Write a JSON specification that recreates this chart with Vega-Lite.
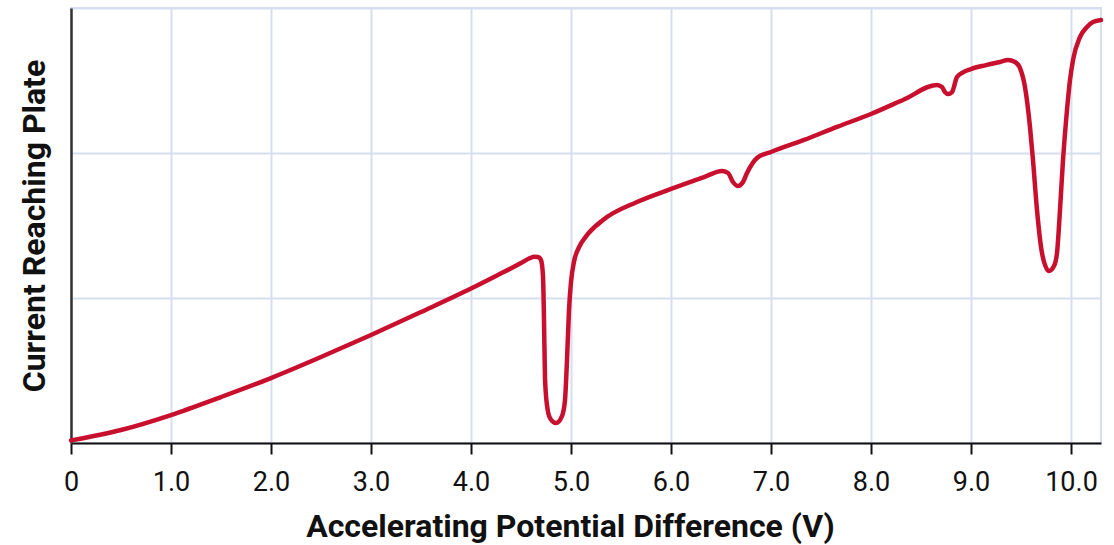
{
  "$schema": "https://vega.github.io/schema/vega-lite/v6.json",
  "width": 1030,
  "height": 435,
  "autosize": {"type": "none"},
  "padding": {"left": 71, "top": 8, "right": 13, "bottom": 102},
  "background": "white",
  "config": {
    "view": {"stroke": "#d5dff0", "strokeWidth": 2},
    "font": "Roboto"
  },
  "data": {
    "values": [
      {"v": 0, "c": 0.018}, {"v": 0.5, "c": 0.09}, {"v": 1.0, "c": 0.193},
      {"v": 1.5, "c": 0.317}, {"v": 2.0, "c": 0.448}, {"v": 2.5, "c": 0.593},
      {"v": 3.0, "c": 0.745}, {"v": 3.5, "c": 0.903}, {"v": 4.0, "c": 1.065},
      {"v": 4.25, "c": 1.152}, {"v": 4.5, "c": 1.241}, {"v": 4.58, "c": 1.272},
      {"v": 4.63, "c": 1.285}, {"v": 4.67, "c": 1.283}, {"v": 4.7, "c": 1.262},
      {"v": 4.72, "c": 1.15}, {"v": 4.73, "c": 0.85}, {"v": 4.74, "c": 0.45},
      {"v": 4.76, "c": 0.26}, {"v": 4.79, "c": 0.172}, {"v": 4.85, "c": 0.138},
      {"v": 4.91, "c": 0.186}, {"v": 4.94, "c": 0.297}, {"v": 4.96, "c": 0.572},
      {"v": 4.98, "c": 0.917}, {"v": 5.0, "c": 1.11}, {"v": 5.03, "c": 1.25},
      {"v": 5.08, "c": 1.35}, {"v": 5.15, "c": 1.425}, {"v": 5.32, "c": 1.538},
      {"v": 5.66, "c": 1.662}, {"v": 6.0, "c": 1.752}, {"v": 6.33, "c": 1.834},
      {"v": 6.51, "c": 1.876}, {"v": 6.57, "c": 1.862}, {"v": 6.62, "c": 1.8},
      {"v": 6.67, "c": 1.772}, {"v": 6.72, "c": 1.8}, {"v": 6.76, "c": 1.862},
      {"v": 6.86, "c": 1.966}, {"v": 7.0, "c": 2.007}, {"v": 7.33, "c": 2.09},
      {"v": 7.66, "c": 2.18}, {"v": 8.0, "c": 2.269}, {"v": 8.33, "c": 2.369},
      {"v": 8.66, "c": 2.469}, {"v": 8.71, "c": 2.455}, {"v": 8.74, "c": 2.42},
      {"v": 8.77, "c": 2.407}, {"v": 8.81, "c": 2.42}, {"v": 8.86, "c": 2.524},
      {"v": 8.92, "c": 2.556}, {"v": 9.0, "c": 2.579}, {"v": 9.15, "c": 2.606},
      {"v": 9.29, "c": 2.628}, {"v": 9.37, "c": 2.641}, {"v": 9.44, "c": 2.628},
      {"v": 9.49, "c": 2.586}, {"v": 9.54, "c": 2.455}, {"v": 9.59, "c": 2.179},
      {"v": 9.62, "c": 1.95}, {"v": 9.66, "c": 1.607}, {"v": 9.71, "c": 1.31},
      {"v": 9.78, "c": 1.186}, {"v": 9.83, "c": 1.22}, {"v": 9.86, "c": 1.31},
      {"v": 9.89, "c": 1.607}, {"v": 9.92, "c": 1.95}, {"v": 9.96, "c": 2.297},
      {"v": 9.99, "c": 2.503}, {"v": 10.02, "c": 2.641}, {"v": 10.09, "c": 2.8},
      {"v": 10.16, "c": 2.869}, {"v": 10.22, "c": 2.903}, {"v": 10.3, "c": 2.917}
    ]
  },
  "mark": {"type": "line", "color": "#c8102e", "strokeWidth": 4.5, "interpolate": "monotone", "strokeCap": "round", "strokeJoin": "round"},
  "encoding": {
    "x": {
      "field": "v", "type": "quantitative",
      "scale": {"domain": [0, 10.3], "nice": false, "zero": false},
      "axis": {
        "values": [0, 1, 2, 3, 4, 5, 6, 7, 8, 9, 10],
        "labelExpr": "datum.value === 0 ? '0' : format(datum.value, '.1f')",
        "title": "Accelerating Potential Difference (V)",
        "titleFont": "Roboto", "titleFontSize": 32, "titleFontWeight": "bold", "titleColor": "#111111",
        "titlePadding": 16, "titleX": 499, "titleAlign": "center",
        "labelFont": "Roboto", "labelFontSize": 27, "labelColor": "#111111", "labelPadding": 15,
        "labelFlush": false, "labelOverlap": false,
        "tickColor": "#111111", "tickWidth": 2, "tickSize": 11,
        "domainColor": "#111111", "domainWidth": 2,
        "grid": true, "gridColor": "#d5dff0", "gridWidth": 2
      }
    },
    "y": {
      "field": "c", "type": "quantitative",
      "scale": {"domain": [0, 3], "nice": false},
      "axis": {
        "values": [0, 1, 2, 3],
        "labels": false, "ticks": false,
        "title": "Current Reaching Plate",
        "titleFont": "Roboto", "titleFontSize": 32, "titleFontWeight": "bold", "titleColor": "#111111",
        "titlePadding": 20,
        "domainColor": "#333333", "domainWidth": 2.5,
        "grid": true, "gridColor": "#d5dff0", "gridWidth": 2
      }
    }
  }
}
